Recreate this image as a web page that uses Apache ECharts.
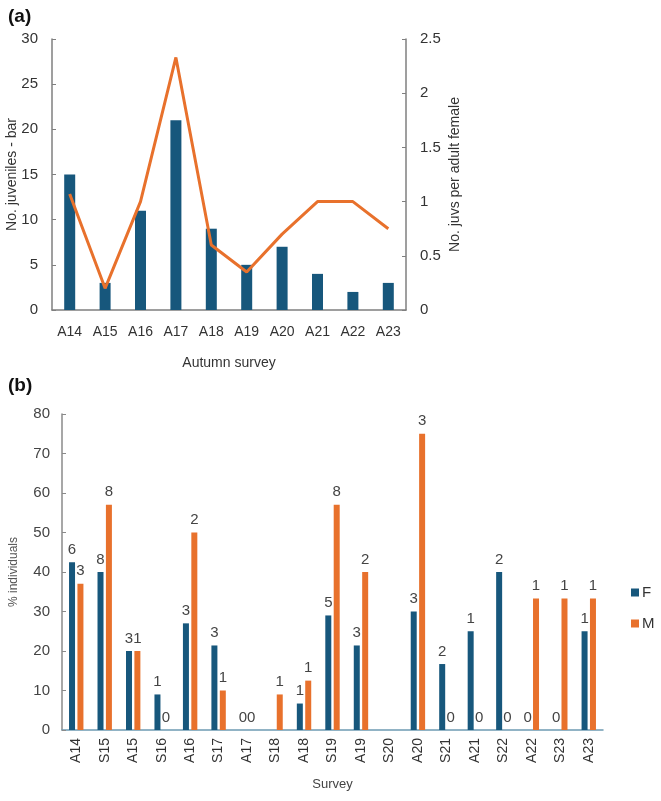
<!DOCTYPE html>
<html>
<head>
<meta charset="utf-8">
<script src="https://cdn.jsdelivr.net/npm/echarts@6/dist/echarts.min.js"></script>
<style>
  html, body { margin: 0; padding: 0; background: #fff; }
  #main { width: 661px; height: 801px; }
</style>
</head>
<body>
<div id="main"></div>
<script>
// panel (a)
var autumnCats = ['A14', 'A15', 'A16', 'A17', 'A18', 'A19', 'A20', 'A21', 'A22', 'A23']
var juvBars = [15, 3, 11, 21, 9, 5, 7, 4, 2, 3]
var juvsPerFemale = [1.07, 0.2, 1.0, 2.33, 0.6, 0.35, 0.7, 1.0, 1.0, 0.75]

// panel (b)
var surveyCats = ['A14', 'S15', 'A15', 'S16', 'A16', 'S17', 'A17', 'S18', 'A18', 'S19',
  'A19', 'S20', 'A20', 'S21', 'A21', 'S22', 'A22', 'S23', 'A23']
var pctF = [42.5, 40, 20, 9, 27, 21.4, 0, null, 6.7, 29, 21.4, null, 30, 16.7, 25, 40, 0, 0, 25]
var pctM = [37, 57, 20, 0, 50, 10, 0, 9, 12.5, 57, 40, null, 75, 0, 0, 0, 33.3, 33.3, 33.3]
var countF = [6, 8, 3, 1, 3, 3, 0, null, 1, 5, 3, null, 3, 2, 1, 2, 0, 0, 1]
var countM = [3, 8, 1, 0, 2, 1, 0, 1, 1, 8, 2, null, 3, 0, 0, 0, 1, 1, 1]

var blue = '#17577c'
var orange = '#e8712c'
var fontFam = "'Liberation Sans', 'DejaVu Sans', sans-serif"

var chart = echarts.init(document.getElementById('main'))

function countLabel(counts) {
  return function (p) {
    var c = counts[p.dataIndex]
    return c === null ? '' : String(c)
  }
}

var option = {
  animation: false,
  textStyle: { fontFamily: fontFam },
  title: [
    { text: '(a)', left: 3, top: 2, textStyle: { fontSize: 19, fontWeight: 'bold', color: '#111' } },
    { text: '(b)', left: 3, top: 371, textStyle: { fontSize: 19, fontWeight: 'bold', color: '#111' } }
  ],
  legend: {
    orient: 'vertical',
    left: 626,
    top: 580,
    itemWidth: 8,
    itemHeight: 8,
    itemGap: 16,
    icon: 'rect',
    data: ['F', 'M'],
    textStyle: { fontSize: 15, color: '#333', padding: [0, 0, 0, -2] }
  },
  grid: [
    { left: 52, right: 255, top: 39, height: 271, outerBoundsMode: 'none' },
    { left: 62, right: 58, top: 414, height: 316, outerBoundsMode: 'none' }
  ],
  xAxis: [
    {
      type: 'category',
      gridIndex: 0,
      data: autumnCats,
      name: 'Autumn survey',
      nameLocation: 'middle',
      nameGap: 46,
      nameTextStyle: { fontSize: 14, color: '#333' },
      axisLine: { lineStyle: { color: '#7f7f7f', width: 1.5 } },
      axisTick: { inside: true, length: 5, lineStyle: { color: '#7f7f7f' } },
      axisLabel: { interval: 0, fontSize: 14, color: '#333', margin: 15 }
    },
    {
      type: 'category',
      gridIndex: 1,
      data: surveyCats,
      name: 'Survey',
      nameLocation: 'middle',
      nameGap: 48,
      nameTextStyle: { fontSize: 13, color: '#444' },
      axisLine: { lineStyle: { color: '#6e9bb2', width: 1.5 } },
      axisTick: { inside: true, length: 4, lineStyle: { color: '#6e9bb2' } },
      axisLabel: { interval: 0, fontSize: 14, color: '#333', rotate: 90, margin: 8 }
    }
  ],
  yAxis: [
    {
      type: 'value',
      gridIndex: 0,
      min: 0,
      max: 30,
      interval: 5,
      name: 'No. juveniles - bar',
      nameLocation: 'middle',
      nameGap: 33,
      nameMoveOverlap: false,
      nameTextStyle: { fontSize: 14, color: '#333' },
      splitLine: { show: false },
      axisLine: { show: true, lineStyle: { color: '#7f7f7f', width: 1.5 } },
      axisTick: { show: true, inside: true, length: 4, lineStyle: { color: '#7f7f7f' } },
      axisLabel: { fontSize: 15, color: '#333', margin: 14 }
    },
    {
      type: 'value',
      gridIndex: 0,
      position: 'right',
      min: 0,
      max: 2.5,
      interval: 0.5,
      name: 'No. juvs per adult female',
      nameLocation: 'middle',
      nameGap: 42,
      nameMoveOverlap: false,
      nameTextStyle: { fontSize: 14, color: '#333' },
      splitLine: { show: false },
      axisLine: { show: true, lineStyle: { color: '#7f7f7f', width: 1.5 } },
      axisTick: { show: true, inside: true, length: 4, lineStyle: { color: '#7f7f7f' } },
      axisLabel: { fontSize: 15, color: '#333', margin: 14 }
    },
    {
      type: 'value',
      gridIndex: 1,
      min: 0,
      max: 80,
      interval: 10,
      name: '% individuals',
      nameLocation: 'middle',
      nameGap: 42,
      nameMoveOverlap: false,
      nameTextStyle: { fontSize: 12, color: '#555' },
      splitLine: { show: false },
      axisLine: { show: true, lineStyle: { color: '#8a8a8a', width: 1.5 } },
      axisTick: { show: true, inside: true, length: 4, lineStyle: { color: '#8a8a8a' } },
      axisLabel: { fontSize: 15, color: '#444', margin: 12 }
    }
  ],
  series: [
    {
      type: 'bar',
      xAxisIndex: 0,
      yAxisIndex: 0,
      data: juvBars,
      barWidth: 11,
      itemStyle: { color: blue }
    },
    {
      type: 'line',
      xAxisIndex: 0,
      yAxisIndex: 1,
      data: juvsPerFemale,
      symbol: 'none',
      lineStyle: { color: orange, width: 3 }
    },
    {
      name: 'F',
      type: 'bar',
      xAxisIndex: 1,
      yAxisIndex: 2,
      data: pctF,
      barWidth: 6,
      barGap: '40%',
      itemStyle: { color: blue },
      label: {
        show: true,
        position: 'top',
        distance: 5,
        fontSize: 15,
        color: '#444',
        formatter: countLabel(countF)
      }
    },
    {
      name: 'M',
      type: 'bar',
      xAxisIndex: 1,
      yAxisIndex: 2,
      data: pctM,
      barWidth: 6,
      barGap: '40%',
      itemStyle: { color: orange },
      label: {
        show: true,
        position: 'top',
        distance: 5,
        fontSize: 15,
        color: '#444',
        formatter: countLabel(countM)
      }
    }
  ]
}

chart.setOption(option)
</script>
</body>
</html>
